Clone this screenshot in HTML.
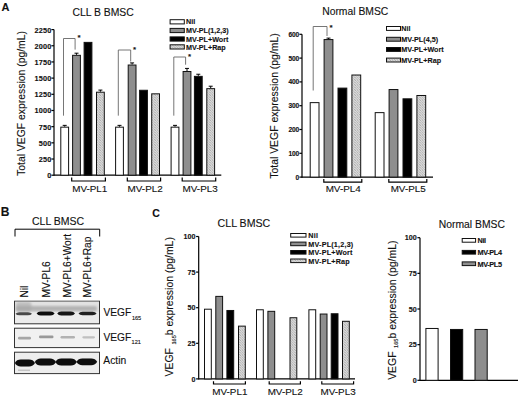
<!DOCTYPE html>
<html><head><meta charset="utf-8"><style>
html,body{margin:0;padding:0;background:#fff;width:520px;height:396px;overflow:hidden}
svg{display:block}
text{font-family:"Liberation Sans", sans-serif;fill:#111;stroke:#111;stroke-width:0.12px}
</style></head><body>
<svg width="520" height="396" viewBox="0 0 520 396">
<defs>
<pattern id="hatch" patternUnits="userSpaceOnUse" width="2.5" height="2.5">
<rect width="2.5" height="2.5" fill="#e2e2e2"/>
<path d="M-0.5,-0.5 L3,3 M-0.5,2 L0.5,3 M2,-0.5 L3,0.5" stroke="#8c8c8c" stroke-width="0.6"/>
<path d="M0,2.5 L2.5,0" stroke="#b8b8b8" stroke-width="0.35"/>
</pattern>
<filter id="blur" x="-20%" y="-100%" width="140%" height="300%"><feGaussianBlur stdDeviation="0.6"/></filter>
<filter id="blur2" x="-50%" y="-50%" width="200%" height="200%"><feGaussianBlur stdDeviation="1.2"/></filter>
</defs>
<rect width="520" height="396" fill="#fff"/>
<text x="1.50" y="10.80" font-size="11" font-weight="bold" text-anchor="start" >A</text>
<text x="72.40" y="16.00" font-size="10.4" text-anchor="start" >CLL B BMSC</text>
<line x1="54.00" y1="29.58" x2="54.00" y2="175.80" stroke="#000" stroke-width="1.2"/>
<line x1="51.40" y1="175.20" x2="54.00" y2="175.20" stroke="#000" stroke-width="1.2"/>
<text x="51.40" y="178.20" font-size="7.3" font-weight="bold" text-anchor="end" letter-spacing="0.15" stroke="#111" stroke-width="0.3">0</text>
<line x1="51.40" y1="159.02" x2="54.00" y2="159.02" stroke="#000" stroke-width="1.2"/>
<text x="51.40" y="162.02" font-size="7.3" font-weight="bold" text-anchor="end" letter-spacing="0.15" stroke="#111" stroke-width="0.3">250</text>
<line x1="51.40" y1="142.84" x2="54.00" y2="142.84" stroke="#000" stroke-width="1.2"/>
<text x="51.40" y="145.84" font-size="7.3" font-weight="bold" text-anchor="end" letter-spacing="0.15" stroke="#111" stroke-width="0.3">500</text>
<line x1="51.40" y1="126.66" x2="54.00" y2="126.66" stroke="#000" stroke-width="1.2"/>
<text x="51.40" y="129.66" font-size="7.3" font-weight="bold" text-anchor="end" letter-spacing="0.15" stroke="#111" stroke-width="0.3">750</text>
<line x1="51.40" y1="110.48" x2="54.00" y2="110.48" stroke="#000" stroke-width="1.2"/>
<text x="51.40" y="113.48" font-size="7.3" font-weight="bold" text-anchor="end" letter-spacing="0.15" stroke="#111" stroke-width="0.3">1000</text>
<line x1="51.40" y1="94.30" x2="54.00" y2="94.30" stroke="#000" stroke-width="1.2"/>
<text x="51.40" y="97.30" font-size="7.3" font-weight="bold" text-anchor="end" letter-spacing="0.15" stroke="#111" stroke-width="0.3">1250</text>
<line x1="51.40" y1="78.12" x2="54.00" y2="78.12" stroke="#000" stroke-width="1.2"/>
<text x="51.40" y="81.12" font-size="7.3" font-weight="bold" text-anchor="end" letter-spacing="0.15" stroke="#111" stroke-width="0.3">1500</text>
<line x1="51.40" y1="61.94" x2="54.00" y2="61.94" stroke="#000" stroke-width="1.2"/>
<text x="51.40" y="64.94" font-size="7.3" font-weight="bold" text-anchor="end" letter-spacing="0.15" stroke="#111" stroke-width="0.3">1750</text>
<line x1="51.40" y1="45.76" x2="54.00" y2="45.76" stroke="#000" stroke-width="1.2"/>
<text x="51.40" y="48.76" font-size="7.3" font-weight="bold" text-anchor="end" letter-spacing="0.15" stroke="#111" stroke-width="0.3">2000</text>
<line x1="51.40" y1="29.58" x2="54.00" y2="29.58" stroke="#000" stroke-width="1.2"/>
<text x="51.40" y="32.58" font-size="7.3" font-weight="bold" text-anchor="end" letter-spacing="0.15" stroke="#111" stroke-width="0.3">2250</text>
<line x1="54.00" y1="175.20" x2="221.30" y2="175.20" stroke="#000" stroke-width="1.2"/>
<text x="0" y="0" font-size="10.4" text-anchor="middle" transform="translate(25.30,103.50) rotate(-90)">Total VEGF expression (pg/mL)</text>
<line x1="64.70" y1="126.66" x2="64.70" y2="125.37" stroke="#000" stroke-width="1.0"/>
<line x1="62.70" y1="125.37" x2="66.70" y2="125.37" stroke="#000" stroke-width="1.0"/>
<rect x="60.80" y="127.16" width="7.80" height="48.04" fill="#fff" stroke="#111" stroke-width="1.0"/>
<line x1="76.50" y1="54.82" x2="76.50" y2="53.20" stroke="#000" stroke-width="1.0"/>
<line x1="74.50" y1="53.20" x2="78.50" y2="53.20" stroke="#000" stroke-width="1.0"/>
<rect x="72.60" y="55.32" width="7.80" height="119.88" fill="#8e8e8e" stroke="#111" stroke-width="1.0"/>
<rect x="84.10" y="42.38" width="7.80" height="132.82" fill="#000" stroke="#111" stroke-width="1.0"/>
<line x1="100.40" y1="91.71" x2="100.40" y2="90.09" stroke="#000" stroke-width="1.0"/>
<line x1="98.40" y1="90.09" x2="102.40" y2="90.09" stroke="#000" stroke-width="1.0"/>
<rect x="96.50" y="92.21" width="7.80" height="82.99" fill="url(#hatch)" stroke="#111" stroke-width="1.0"/>
<path d="M71.70,177.50 L71.70,181.00 L105.40,181.00 L105.40,177.50" stroke="#000" stroke-width="1.2" fill="none"/>
<text x="89.75" y="191.80" font-size="9.9" text-anchor="middle" >MV-PL1</text>
<line x1="119.50" y1="126.66" x2="119.50" y2="125.37" stroke="#000" stroke-width="1.0"/>
<line x1="117.50" y1="125.37" x2="121.50" y2="125.37" stroke="#000" stroke-width="1.0"/>
<rect x="115.60" y="127.16" width="7.80" height="48.04" fill="#fff" stroke="#111" stroke-width="1.0"/>
<line x1="132.10" y1="64.53" x2="132.10" y2="62.91" stroke="#000" stroke-width="1.0"/>
<line x1="130.10" y1="62.91" x2="134.10" y2="62.91" stroke="#000" stroke-width="1.0"/>
<rect x="128.20" y="65.03" width="7.80" height="110.17" fill="#8e8e8e" stroke="#111" stroke-width="1.0"/>
<rect x="139.60" y="90.27" width="7.80" height="84.93" fill="#000" stroke="#111" stroke-width="1.0"/>
<rect x="151.70" y="93.83" width="7.80" height="81.37" fill="url(#hatch)" stroke="#111" stroke-width="1.0"/>
<path d="M127.30,177.50 L127.30,181.00 L160.60,181.00 L160.60,177.50" stroke="#000" stroke-width="1.2" fill="none"/>
<text x="145.15" y="191.80" font-size="9.9" text-anchor="middle" >MV-PL2</text>
<line x1="175.00" y1="126.66" x2="175.00" y2="125.37" stroke="#000" stroke-width="1.0"/>
<line x1="173.00" y1="125.37" x2="177.00" y2="125.37" stroke="#000" stroke-width="1.0"/>
<rect x="171.10" y="127.16" width="7.80" height="48.04" fill="#fff" stroke="#111" stroke-width="1.0"/>
<line x1="187.00" y1="71.00" x2="187.00" y2="68.41" stroke="#000" stroke-width="1.0"/>
<line x1="185.00" y1="68.41" x2="189.00" y2="68.41" stroke="#000" stroke-width="1.0"/>
<rect x="183.10" y="71.50" width="7.80" height="103.70" fill="#8e8e8e" stroke="#111" stroke-width="1.0"/>
<line x1="198.30" y1="75.85" x2="198.30" y2="74.24" stroke="#000" stroke-width="1.0"/>
<line x1="196.30" y1="74.24" x2="200.30" y2="74.24" stroke="#000" stroke-width="1.0"/>
<rect x="194.40" y="76.35" width="7.80" height="98.85" fill="#000" stroke="#111" stroke-width="1.0"/>
<line x1="210.70" y1="88.15" x2="210.70" y2="86.21" stroke="#000" stroke-width="1.0"/>
<line x1="208.70" y1="86.21" x2="212.70" y2="86.21" stroke="#000" stroke-width="1.0"/>
<rect x="206.80" y="88.65" width="7.80" height="86.55" fill="url(#hatch)" stroke="#111" stroke-width="1.0"/>
<path d="M182.20,177.50 L182.20,181.00 L215.70,181.00 L215.70,177.50" stroke="#000" stroke-width="1.2" fill="none"/>
<text x="200.15" y="191.80" font-size="9.9" text-anchor="middle" >MV-PL3</text>
<path d="M63.50,115.66 L63.50,38.50 L75.10,38.50 L75.10,49.60" stroke="#666" stroke-width="0.9" fill="none"/>
<text x="77.50" y="40.20" font-size="8" font-weight="bold" text-anchor="start" stroke-width="0">*</text>
<path d="M118.30,115.66 L118.30,50.00 L130.70,50.00 L130.70,61.50" stroke="#666" stroke-width="0.9" fill="none"/>
<text x="133.10" y="51.70" font-size="8" font-weight="bold" text-anchor="start" stroke-width="0">*</text>
<path d="M173.80,115.66 L173.80,57.00 L185.60,57.00 L185.60,64.70" stroke="#666" stroke-width="0.9" fill="none"/>
<text x="188.00" y="58.70" font-size="8" font-weight="bold" text-anchor="start" stroke-width="0">*</text>
<rect x="170.10" y="19.70" width="14.20" height="4.20" fill="#fff" stroke="#111" stroke-width="1"/>
<text x="186.00" y="24.40" font-size="7.2" font-weight="bold" text-anchor="start" letter-spacing="0">Nil</text>
<rect x="170.10" y="28.40" width="14.20" height="4.20" fill="#8e8e8e" stroke="#111" stroke-width="1"/>
<text x="186.00" y="33.10" font-size="7.2" font-weight="bold" text-anchor="start" letter-spacing="0">MV-PL(1,2,3)</text>
<rect x="170.10" y="36.90" width="14.20" height="4.20" fill="#000" stroke="#111" stroke-width="1"/>
<text x="186.00" y="41.60" font-size="7.2" font-weight="bold" text-anchor="start" letter-spacing="0">MV-PL+Wort</text>
<rect x="170.10" y="44.80" width="14.20" height="4.20" fill="url(#hatch)" stroke="#111" stroke-width="1"/>
<text x="186.00" y="49.50" font-size="7.2" font-weight="bold" text-anchor="start" letter-spacing="0">MV-PL+Rap</text>
<text x="322.20" y="15.40" font-size="10.35" text-anchor="start" >Normal BMSC</text>
<line x1="302.00" y1="34.30" x2="302.00" y2="177.70" stroke="#000" stroke-width="1.2"/>
<line x1="299.40" y1="177.10" x2="302.00" y2="177.10" stroke="#000" stroke-width="1.2"/>
<text x="299.00" y="179.50" font-size="6.6" font-weight="bold" text-anchor="end" letter-spacing="-0.2" stroke="#111" stroke-width="0.3">0</text>
<line x1="299.40" y1="153.30" x2="302.00" y2="153.30" stroke="#000" stroke-width="1.2"/>
<text x="299.00" y="155.70" font-size="6.6" font-weight="bold" text-anchor="end" letter-spacing="-0.2" stroke="#111" stroke-width="0.3">100</text>
<line x1="299.40" y1="129.50" x2="302.00" y2="129.50" stroke="#000" stroke-width="1.2"/>
<text x="299.00" y="131.90" font-size="6.6" font-weight="bold" text-anchor="end" letter-spacing="-0.2" stroke="#111" stroke-width="0.3">200</text>
<line x1="299.40" y1="105.70" x2="302.00" y2="105.70" stroke="#000" stroke-width="1.2"/>
<text x="299.00" y="108.10" font-size="6.6" font-weight="bold" text-anchor="end" letter-spacing="-0.2" stroke="#111" stroke-width="0.3">300</text>
<line x1="299.40" y1="81.90" x2="302.00" y2="81.90" stroke="#000" stroke-width="1.2"/>
<text x="299.00" y="84.30" font-size="6.6" font-weight="bold" text-anchor="end" letter-spacing="-0.2" stroke="#111" stroke-width="0.3">400</text>
<line x1="299.40" y1="58.10" x2="302.00" y2="58.10" stroke="#000" stroke-width="1.2"/>
<text x="299.00" y="60.50" font-size="6.6" font-weight="bold" text-anchor="end" letter-spacing="-0.2" stroke="#111" stroke-width="0.3">500</text>
<line x1="299.40" y1="34.30" x2="302.00" y2="34.30" stroke="#000" stroke-width="1.2"/>
<text x="299.00" y="36.70" font-size="6.6" font-weight="bold" text-anchor="end" letter-spacing="-0.2" stroke="#111" stroke-width="0.3">600</text>
<line x1="301.70" y1="177.10" x2="433.00" y2="177.10" stroke="#000" stroke-width="1.2"/>
<text x="0" y="0" font-size="10.45" text-anchor="middle" transform="translate(277.50,106.00) rotate(-90)">Total VEGF expression (pg/mL)</text>
<rect x="310.20" y="102.63" width="8.80" height="74.47" fill="#fff" stroke="#111" stroke-width="1.0"/>
<line x1="328.50" y1="39.06" x2="328.50" y2="38.11" stroke="#000" stroke-width="1.0"/>
<line x1="326.50" y1="38.11" x2="330.50" y2="38.11" stroke="#000" stroke-width="1.0"/>
<rect x="324.10" y="39.56" width="8.80" height="137.54" fill="#8e8e8e" stroke="#111" stroke-width="1.0"/>
<rect x="338.00" y="88.11" width="8.80" height="88.99" fill="#000" stroke="#111" stroke-width="1.0"/>
<rect x="351.90" y="75.02" width="8.80" height="102.08" fill="url(#hatch)" stroke="#111" stroke-width="1.0"/>
<path d="M323.80,179.00 L323.80,182.20 L361.80,182.20 L361.80,179.00" stroke="#000" stroke-width="1.2" fill="none"/>
<text x="343.20" y="191.80" font-size="9.9" text-anchor="middle" >MV-PL4</text>
<rect x="375.20" y="112.63" width="8.80" height="64.47" fill="#fff" stroke="#111" stroke-width="1.0"/>
<rect x="389.10" y="89.54" width="8.80" height="87.56" fill="#8e8e8e" stroke="#111" stroke-width="1.0"/>
<rect x="403.00" y="98.82" width="8.80" height="78.28" fill="#000" stroke="#111" stroke-width="1.0"/>
<rect x="416.90" y="95.49" width="8.80" height="81.61" fill="url(#hatch)" stroke="#111" stroke-width="1.0"/>
<path d="M388.80,179.00 L388.80,182.20 L426.80,182.20 L426.80,179.00" stroke="#000" stroke-width="1.2" fill="none"/>
<text x="408.20" y="191.80" font-size="9.9" text-anchor="middle" >MV-PL5</text>
<path d="M313.2,90.5 L313.2,26.5 L327.0,26.5 L327.0,36.0" stroke="#666" stroke-width="0.9" fill="none"/>
<text x="329.50" y="29.90" font-size="8" font-weight="bold" text-anchor="start" stroke-width="0">*</text>
<rect x="386.50" y="26.50" width="14.00" height="3.90" fill="#fff" stroke="#111" stroke-width="1"/>
<text x="401.30" y="31.00" font-size="7.2" font-weight="bold" text-anchor="start" letter-spacing="0">Nil</text>
<rect x="386.50" y="37.30" width="14.00" height="3.90" fill="#8e8e8e" stroke="#111" stroke-width="1"/>
<text x="401.30" y="41.80" font-size="7.2" font-weight="bold" text-anchor="start" letter-spacing="0">MV-PL(4,5)</text>
<rect x="386.50" y="47.50" width="14.00" height="3.90" fill="#000" stroke="#111" stroke-width="1"/>
<text x="401.30" y="52.00" font-size="7.2" font-weight="bold" text-anchor="start" letter-spacing="0">MV-PL+Wort</text>
<rect x="386.50" y="58.10" width="14.00" height="3.90" fill="url(#hatch)" stroke="#111" stroke-width="1"/>
<text x="401.30" y="62.60" font-size="7.2" font-weight="bold" text-anchor="start" letter-spacing="0">MV-PL+Rap</text>
<text x="0.80" y="216.20" font-size="12" font-weight="bold" text-anchor="start" >B</text>
<text x="32.00" y="225.30" font-size="10.5" text-anchor="start" >CLL BMSC</text>
<path d="M15.00,236.50 L15.00,229.20 L99.70,229.20 L99.70,236.50" stroke="#000" stroke-width="1.0" fill="none"/>
<text x="0" y="0" font-size="10.2" text-anchor="start" transform="translate(28.20,297.5) rotate(-90)">Nil</text>
<text x="0" y="0" font-size="10.2" text-anchor="start" transform="translate(50.20,297.5) rotate(-90)">MV-PL6</text>
<text x="0" y="0" font-size="10.2" text-anchor="start" transform="translate(70.60,297.5) rotate(-90)">MV-PL6+Wort</text>
<text x="0" y="0" font-size="10.2" text-anchor="start" transform="translate(91.20,297.5) rotate(-90)">MV-PL6+Rap</text>
<rect x="14.5" y="301.2" width="85" height="22.6" fill="#ececec" stroke="#333" stroke-width="1"/>
<rect x="15" y="301.7" width="84" height="10" fill="#e2e2e2"/>
<rect x="14.5" y="328.2" width="85" height="19.4" fill="#f1f1f1" stroke="#333" stroke-width="1"/>
<rect x="14.5" y="352.2" width="85" height="21.4" fill="#ededed" stroke="#333" stroke-width="1"/>
<rect x="16" y="306.0" width="81" height="5.2" rx="2" fill="#a8a8a8" opacity="0.8" filter="url(#blur2)"/>
<rect x="16" y="302.0" width="15.5" height="9.5" rx="3" fill="#a8a8a8" opacity="0.6" filter="url(#blur2)"/>
<path d="M15.5,313.7 Q16.7,312.2 19.5,312.2 L28.0,312.2 Q30.8,312.2 32.0,313.7 Q30.8,315.2 28.0,315.2 L19.5,315.2 Q16.7,315.2 15.5,313.7 Z" fill="#4a4a4a" filter="url(#blur)"/>
<path d="M36.6,313.5 Q37.8,311.5 40.6,311.5 L50.6,311.5 Q53.4,311.5 54.6,313.5 Q53.4,315.5 50.6,315.5 L40.6,315.5 Q37.8,315.5 36.6,313.5 Z" fill="#111" filter="url(#blur)"/>
<path d="M57.2,313.5 Q58.4,311.6 61.2,311.6 L71.0,311.6 Q73.8,311.6 75.0,313.5 Q73.8,315.4 71.0,315.4 L61.2,315.4 Q58.4,315.4 57.2,313.5 Z" fill="#151515" filter="url(#blur)"/>
<path d="M78.5,313.6 Q79.7,311.8 82.5,311.8 L92.6,311.8 Q95.4,311.8 96.6,313.6 Q95.4,315.3 92.6,315.3 L82.5,315.3 Q79.7,315.3 78.5,313.6 Z" fill="#202020" filter="url(#blur)"/>
<rect x="18" y="336.8" width="13.0" height="2.6" rx="1.2" fill="#a6a6a6" filter="url(#blur)"/>
<rect x="39" y="335.6" width="14.5" height="2.6" rx="1.2" fill="#999" filter="url(#blur)"/>
<rect x="60.5" y="336.0" width="14.5" height="2.4" rx="1.2" fill="#b2b2b2" filter="url(#blur)"/>
<rect x="82.3" y="336.2" width="12.7" height="2.3" rx="1.2" fill="#c0c0c0" filter="url(#blur)"/>
<path d="M14.8,363.0 Q16.6,359.6 20.8,359.6 L29.0,359.6 Q33.2,359.6 35.0,363.0 Q33.2,366.4 29.0,366.4 L20.8,366.4 Q16.6,366.4 14.8,363.0 Z" fill="#0d0d0d" filter="url(#blur)"/>
<path d="M34.8,361.9 Q36.6,358.4 40.8,358.4 L50.0,358.4 Q54.2,358.4 56.0,361.9 Q54.2,365.4 50.0,365.4 L40.8,365.4 Q36.6,365.4 34.8,361.9 Z" fill="#0d0d0d" filter="url(#blur)"/>
<path d="M55.4,361.9 Q57.2,358.5 61.4,358.5 L70.8,358.5 Q75.0,358.5 76.8,361.9 Q75.0,365.4 70.8,365.4 L61.4,365.4 Q57.2,365.4 55.4,361.9 Z" fill="#0d0d0d" filter="url(#blur)"/>
<path d="M76.4,361.8 Q78.2,358.4 82.4,358.4 L91.2,358.4 Q95.4,358.4 97.2,361.8 Q95.4,365.2 91.2,365.2 L82.4,365.2 Q78.2,365.2 76.4,361.8 Z" fill="#0d0d0d" filter="url(#blur)"/>
<rect x="18" y="369.6" width="12" height="1.2" fill="#bbb" filter="url(#blur)"/>
<text x="103.50" y="316.00" font-size="10.2" text-anchor="start" >VEGF</text>
<text x="131.90" y="319.80" font-size="5.6" text-anchor="start" >165</text>
<text x="103.50" y="340.70" font-size="10.2" text-anchor="start" >VEGF</text>
<text x="131.60" y="343.70" font-size="5.6" text-anchor="start" >121</text>
<text x="103.30" y="363.80" font-size="10.3" text-anchor="start" >Actin</text>
<text x="152.30" y="216.60" font-size="10.5" font-weight="bold" text-anchor="start" >C</text>
<text x="217.60" y="227.00" font-size="10.6" text-anchor="start" >CLL BMSC</text>
<line x1="198.70" y1="236.50" x2="198.70" y2="379.50" stroke="#000" stroke-width="1.2"/>
<line x1="196.10" y1="378.90" x2="198.70" y2="378.90" stroke="#000" stroke-width="1.2"/>
<text x="195.40" y="381.50" font-size="7.2" font-weight="bold" text-anchor="end" letter-spacing="-0.05" stroke="#111" stroke-width="0.3">0</text>
<line x1="196.10" y1="343.30" x2="198.70" y2="343.30" stroke="#000" stroke-width="1.2"/>
<text x="195.40" y="345.90" font-size="7.2" font-weight="bold" text-anchor="end" letter-spacing="-0.05" stroke="#111" stroke-width="0.3">25</text>
<line x1="196.10" y1="307.70" x2="198.70" y2="307.70" stroke="#000" stroke-width="1.2"/>
<text x="195.40" y="310.30" font-size="7.2" font-weight="bold" text-anchor="end" letter-spacing="-0.05" stroke="#111" stroke-width="0.3">50</text>
<line x1="196.10" y1="272.10" x2="198.70" y2="272.10" stroke="#000" stroke-width="1.2"/>
<text x="195.40" y="274.70" font-size="7.2" font-weight="bold" text-anchor="end" letter-spacing="-0.05" stroke="#111" stroke-width="0.3">75</text>
<line x1="196.10" y1="236.50" x2="198.70" y2="236.50" stroke="#000" stroke-width="1.2"/>
<text x="195.40" y="239.10" font-size="7.2" font-weight="bold" text-anchor="end" letter-spacing="-0.05" stroke="#111" stroke-width="0.3">100</text>
<line x1="198.70" y1="378.90" x2="355.00" y2="378.90" stroke="#000" stroke-width="1.2"/>
<text x="0" y="0" font-size="10.45" text-anchor="middle" transform="translate(173.3,306.8) rotate(-90)">VEGF <tspan font-size="5.6" dy="2.8" dx="0.6">165</tspan><tspan dy="-2.8">b expression (pg/mL)</tspan></text>
<rect x="204.50" y="309.20" width="6.80" height="69.70" fill="#fff" stroke="#111" stroke-width="1.0"/>
<rect x="215.80" y="296.38" width="6.80" height="82.52" fill="#8e8e8e" stroke="#111" stroke-width="1.0"/>
<rect x="226.90" y="310.48" width="6.80" height="68.42" fill="#000" stroke="#111" stroke-width="1.0"/>
<rect x="238.50" y="326.14" width="6.80" height="52.76" fill="url(#hatch)" stroke="#111" stroke-width="1.0"/>
<path d="M213.50,381.20 L213.50,384.00 L245.40,384.00 L245.40,381.20" stroke="#000" stroke-width="1.2" fill="none"/>
<text x="229.85" y="394.60" font-size="9.9" text-anchor="middle" >MV-PL1</text>
<rect x="256.50" y="309.77" width="6.80" height="69.13" fill="#fff" stroke="#111" stroke-width="1.0"/>
<rect x="267.90" y="311.33" width="6.80" height="67.57" fill="#8e8e8e" stroke="#111" stroke-width="1.0"/>
<rect x="290.00" y="317.74" width="6.80" height="61.16" fill="url(#hatch)" stroke="#111" stroke-width="1.0"/>
<path d="M269.20,381.20 L269.20,384.00 L300.40,384.00 L300.40,381.20" stroke="#000" stroke-width="1.2" fill="none"/>
<text x="285.20" y="394.60" font-size="9.9" text-anchor="middle" >MV-PL2</text>
<rect x="308.90" y="309.77" width="6.80" height="69.13" fill="#fff" stroke="#111" stroke-width="1.0"/>
<rect x="320.20" y="314.04" width="6.80" height="64.86" fill="#8e8e8e" stroke="#111" stroke-width="1.0"/>
<rect x="331.20" y="313.75" width="6.80" height="65.15" fill="#000" stroke="#111" stroke-width="1.0"/>
<rect x="342.50" y="321.30" width="6.80" height="57.60" fill="url(#hatch)" stroke="#111" stroke-width="1.0"/>
<path d="M321.80,381.20 L321.80,384.00 L353.60,384.00 L353.60,381.20" stroke="#000" stroke-width="1.2" fill="none"/>
<text x="338.10" y="394.60" font-size="9.9" text-anchor="middle" >MV-PL3</text>
<rect x="290.70" y="233.50" width="15.30" height="3.60" fill="#fff" stroke="#111" stroke-width="1"/>
<text x="308.30" y="238.20" font-size="7.2" font-weight="bold" text-anchor="start" letter-spacing="0.2">Nil</text>
<rect x="290.70" y="242.10" width="15.30" height="3.60" fill="#8e8e8e" stroke="#111" stroke-width="1"/>
<text x="308.30" y="246.80" font-size="7.2" font-weight="bold" text-anchor="start" letter-spacing="0.2">MV-PL(1,2,3)</text>
<rect x="290.70" y="250.50" width="15.30" height="3.60" fill="#000" stroke="#111" stroke-width="1"/>
<text x="308.30" y="255.20" font-size="7.2" font-weight="bold" text-anchor="start" letter-spacing="0.2">MV-PL+Wort</text>
<rect x="290.70" y="259.00" width="15.30" height="3.60" fill="url(#hatch)" stroke="#111" stroke-width="1"/>
<text x="308.30" y="263.70" font-size="7.2" font-weight="bold" text-anchor="start" letter-spacing="0.2">MV-PL+Rap</text>
<text x="438.80" y="228.30" font-size="10.35" text-anchor="start" >Normal BMSC</text>
<line x1="420.00" y1="237.70" x2="420.00" y2="380.90" stroke="#000" stroke-width="1.2"/>
<line x1="417.40" y1="380.30" x2="420.00" y2="380.30" stroke="#000" stroke-width="1.2"/>
<text x="416.70" y="382.90" font-size="7.2" font-weight="bold" text-anchor="end" letter-spacing="-0.05" stroke="#111" stroke-width="0.3">0</text>
<line x1="417.40" y1="344.65" x2="420.00" y2="344.65" stroke="#000" stroke-width="1.2"/>
<text x="416.70" y="347.25" font-size="7.2" font-weight="bold" text-anchor="end" letter-spacing="-0.05" stroke="#111" stroke-width="0.3">25</text>
<line x1="417.40" y1="309.00" x2="420.00" y2="309.00" stroke="#000" stroke-width="1.2"/>
<text x="416.70" y="311.60" font-size="7.2" font-weight="bold" text-anchor="end" letter-spacing="-0.05" stroke="#111" stroke-width="0.3">50</text>
<line x1="417.40" y1="273.35" x2="420.00" y2="273.35" stroke="#000" stroke-width="1.2"/>
<text x="416.70" y="275.95" font-size="7.2" font-weight="bold" text-anchor="end" letter-spacing="-0.05" stroke="#111" stroke-width="0.3">75</text>
<line x1="417.40" y1="237.70" x2="420.00" y2="237.70" stroke="#000" stroke-width="1.2"/>
<text x="416.70" y="240.30" font-size="7.2" font-weight="bold" text-anchor="end" letter-spacing="-0.05" stroke="#111" stroke-width="0.3">100</text>
<line x1="420.00" y1="380.30" x2="518.00" y2="380.30" stroke="#000" stroke-width="1.2"/>
<text x="0" y="0" font-size="10.45" text-anchor="middle" transform="translate(395.6,310.2) rotate(-90)">VEGF <tspan font-size="5.6" dy="2.8" dx="0.6">165</tspan><tspan dy="-2.8">b expression (pg/mL)</tspan></text>
<rect x="425.90" y="328.47" width="12.20" height="51.83" fill="#fff" stroke="#111" stroke-width="1.0"/>
<rect x="450.50" y="329.46" width="12.20" height="50.84" fill="#000" stroke="#111" stroke-width="1.0"/>
<rect x="475.00" y="329.46" width="12.20" height="50.84" fill="#8e8e8e" stroke="#111" stroke-width="1.0"/>
<rect x="462.20" y="238.50" width="13.40" height="3.70" fill="#fff" stroke="#111" stroke-width="1"/>
<text x="477.60" y="243.30" font-size="7.3" font-weight="bold" text-anchor="start" letter-spacing="-0.4">Nil</text>
<rect x="462.20" y="250.40" width="13.40" height="3.70" fill="#000" stroke="#111" stroke-width="1"/>
<text x="477.60" y="255.20" font-size="7.3" font-weight="bold" text-anchor="start" letter-spacing="-0.4">MV-PL4</text>
<rect x="462.20" y="261.90" width="13.40" height="3.70" fill="#8e8e8e" stroke="#111" stroke-width="1"/>
<text x="477.60" y="266.70" font-size="7.3" font-weight="bold" text-anchor="start" letter-spacing="-0.4">MV-PL5</text>
</svg>
</body></html>
